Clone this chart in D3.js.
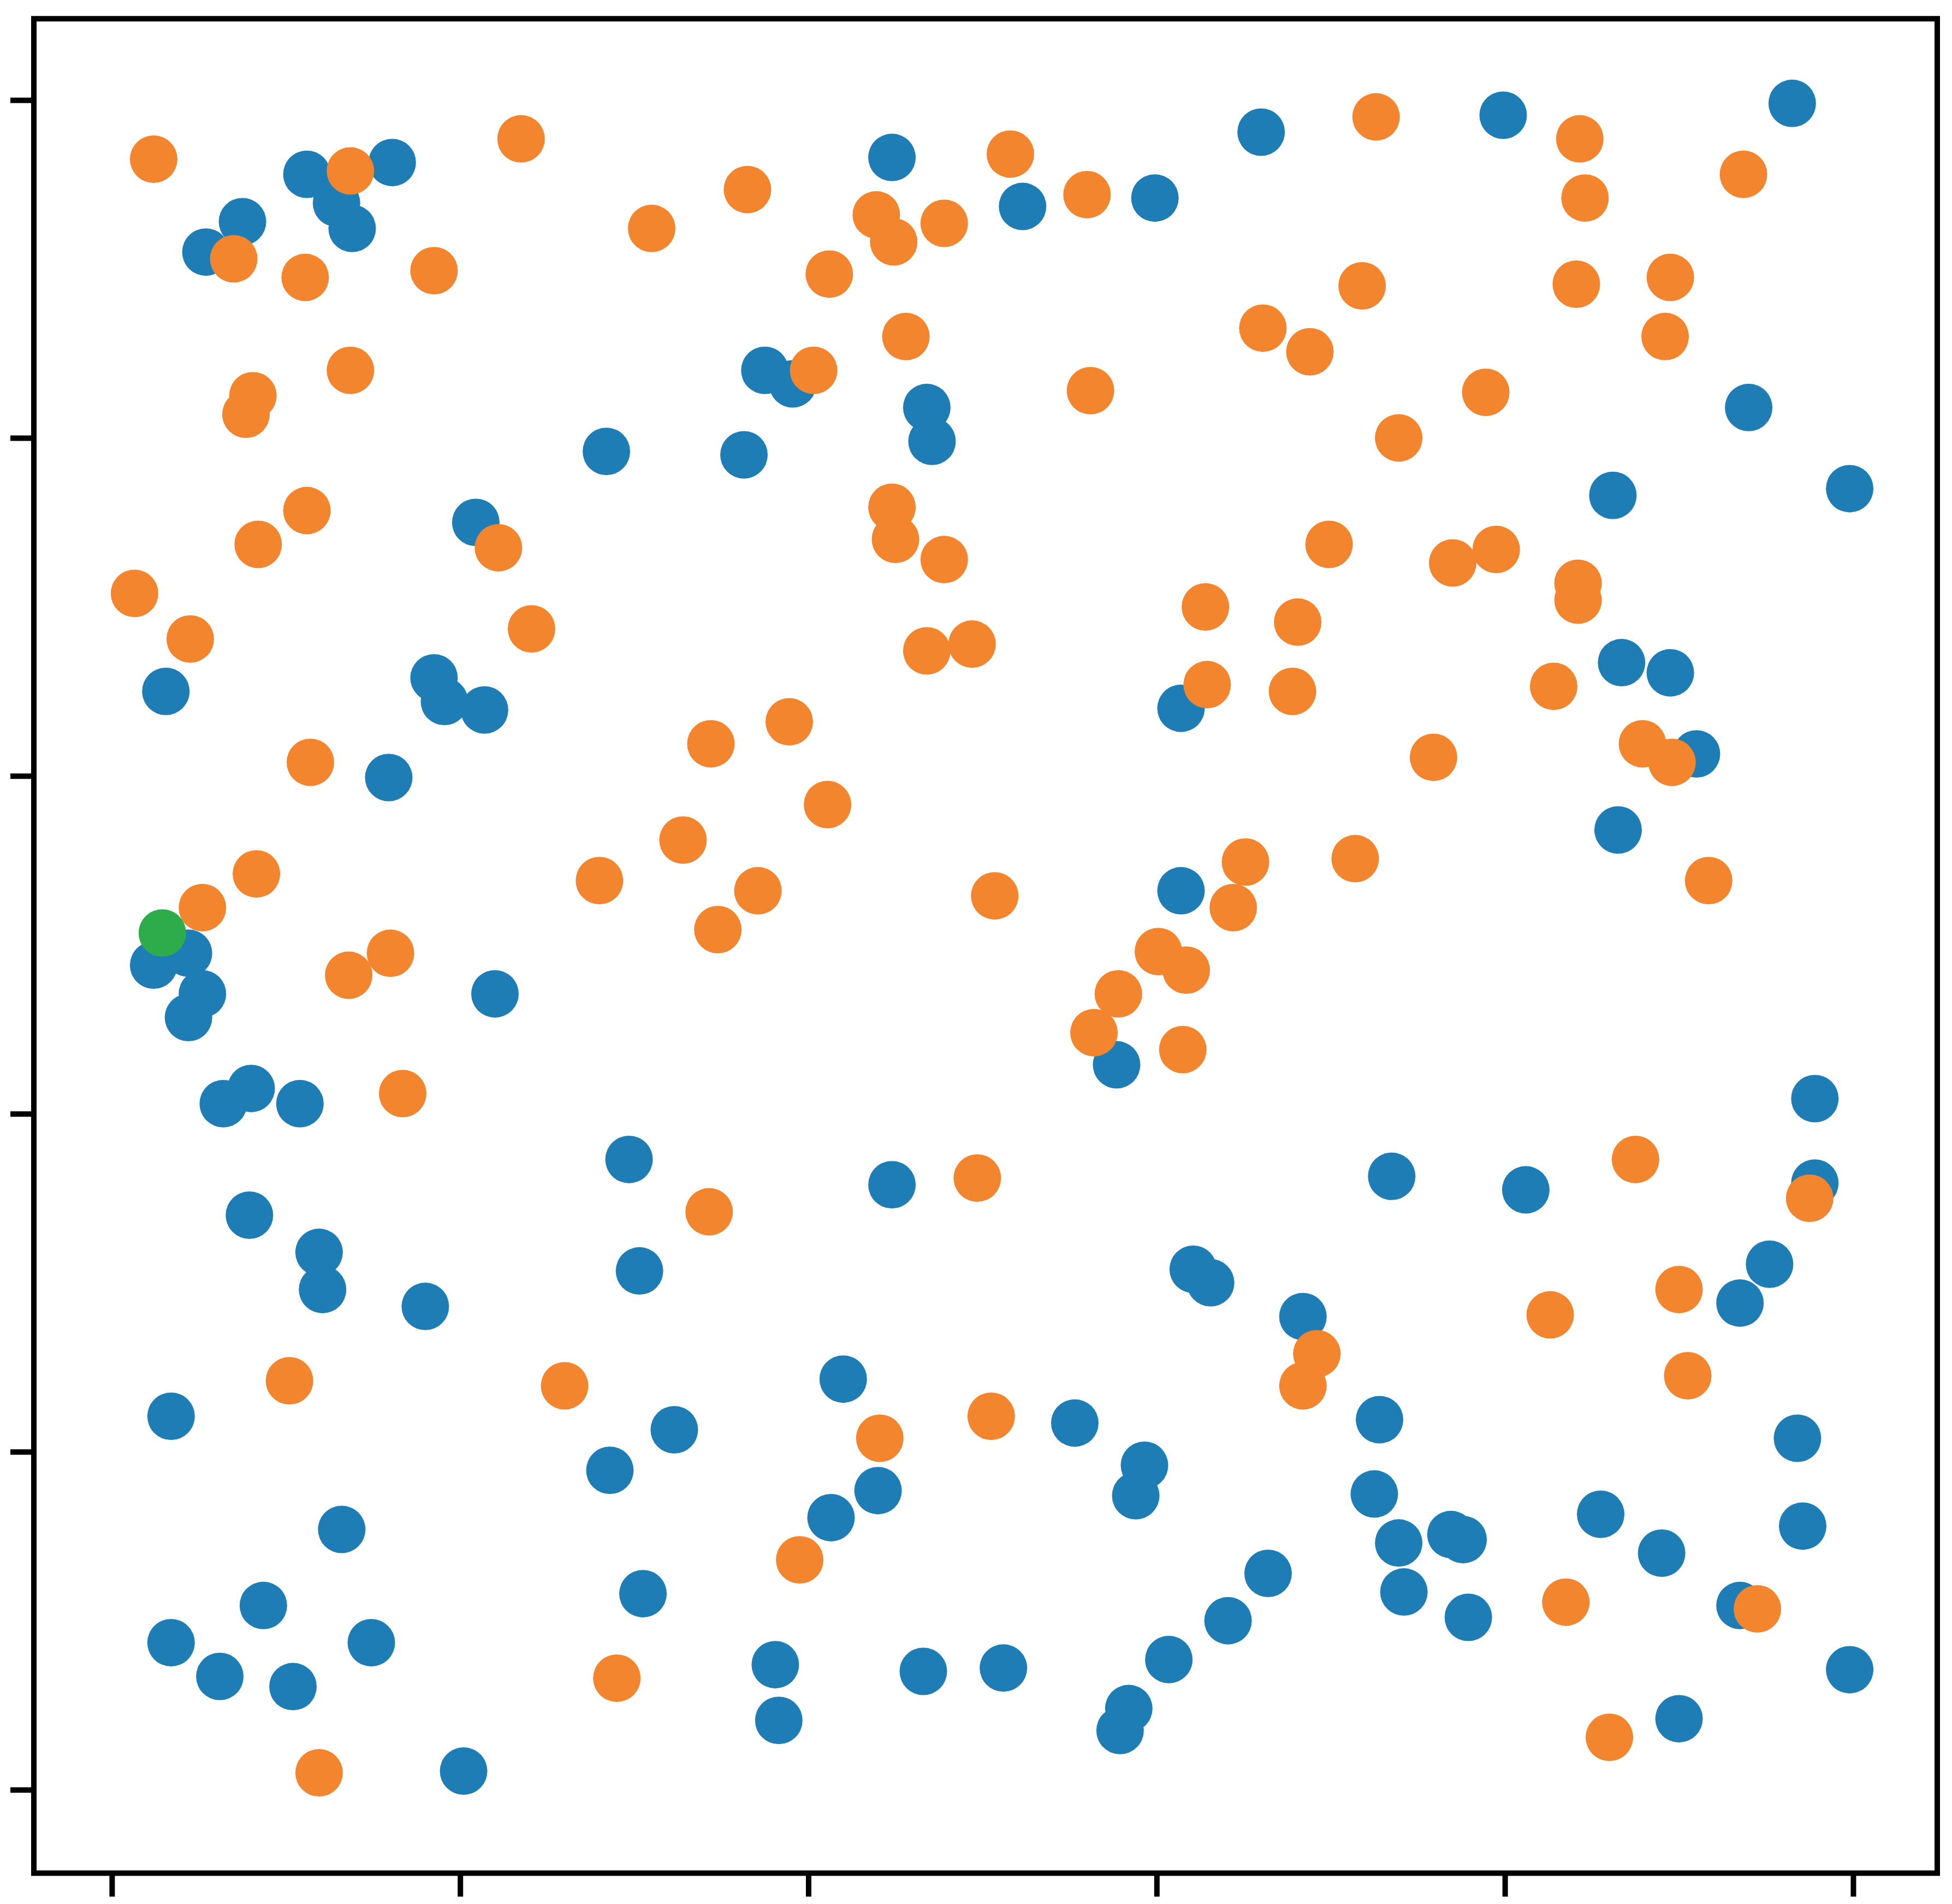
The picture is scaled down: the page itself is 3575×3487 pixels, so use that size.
<!DOCTYPE html>
<html>
<head>
<meta charset="utf-8">
<script src="https://cdn.jsdelivr.net/npm/d3@7"></script>
<style>
  body { margin: 0; background: #fff; }
</style>
</head>
<body>
<div id="chart"></div>
<script>
// series values (x, y in axis units)
var blueX = [0.054,0.075,0.112,0.129,0.138,0.161,0.448,0.523,0.599,0.660,0.799,0.965,
  0.375,0.391,0.468,0.471,0.284,0.363,0.940,0.998,0.862,0.209,0.031,0.185,0.191,0.214,
  0.867,0.895,0.614,0.159,0.910,0.865,0.614,0.024,0.044,0.052,0.044,0.220,0.577,0.064,
  0.080,0.108,0.978,0.297,0.448,0.735,0.812,0.978,0.079,0.119,0.121,0.180,0.303,0.621,
  0.631,0.952,0.935,0.684,0.420,0.034,0.323,0.553,0.728,0.968,0.286,0.593,0.588,0.440,
  0.413,0.725,0.739,0.769,0.776,0.855,0.971,0.890,0.132,0.664,0.742,0.779,0.305,0.087,
  0.641,0.935,0.034,0.149,0.062,0.104,0.381,0.466,0.512,0.607,0.998,0.383,0.584,0.579,
  0.900,0.202];
var blueY = [0.910,0.928,0.956,0.939,0.924,0.963,0.966,0.937,0.942,0.981,0.991,0.998,
  0.840,0.832,0.818,0.798,0.792,0.790,0.818,0.770,0.766,0.750,0.650,0.658,0.644,0.639,
  0.667,0.661,0.640,0.599,0.613,0.568,0.532,0.488,0.495,0.471,0.457,0.471,0.429,0.406,
  0.415,0.406,0.409,0.373,0.358,0.363,0.355,0.359,0.340,0.318,0.296,0.286,0.307,0.308,
  0.300,0.311,0.288,0.280,0.243,0.221,0.213,0.217,0.219,0.208,0.189,0.192,0.174,0.177,
  0.161,0.175,0.146,0.151,0.148,0.163,0.156,0.140,0.154,0.128,0.117,0.102,0.116,0.109,
  0.100,0.109,0.087,0.087,0.067,0.061,0.074,0.070,0.072,0.077,0.071,0.041,0.048,0.035,
  0.042,0.011];

var orangeX = [0.024,0.070,0.137,0.111,0.185,0.235,0.310,0.365,0.412,0.439,0.449,0.478,
  0.516,0.560,0.726,0.843,0.846,0.937,0.718,0.841,0.895,0.081,0.077,0.137,0.403,0.456,
  0.562,0.661,0.688,0.892,0.789,0.739,0.112,0.222,0.084,0.448,0.450,0.478,0.013,0.045,
  0.241,0.468,0.494,0.628,0.681,0.699,0.770,0.795,0.842,0.842,0.629,0.678,0.828,0.344,
  0.389,0.114,0.759,0.879,0.896,0.411,0.328,0.083,0.052,0.280,0.371,0.348,0.507,0.651,
  0.714,0.644,0.917,0.136,0.160,0.601,0.617,0.578,0.564,0.615,0.167,0.497,0.875,0.975,
  0.343,0.900,0.826,0.692,0.684,0.905,0.102,0.260,0.505,0.441,0.395,0.835,0.945,0.290,
  0.860,0.119];
var orangeY = [0.965,0.906,0.958,0.895,0.899,0.977,0.924,0.947,0.897,0.932,0.916,0.927,
  0.968,0.944,0.990,0.977,0.942,0.956,0.890,0.891,0.895,0.825,0.814,0.840,0.840,0.860,
  0.828,0.865,0.851,0.860,0.827,0.800,0.757,0.735,0.737,0.759,0.740,0.728,0.708,0.681,
  0.687,0.674,0.678,0.700,0.691,0.737,0.726,0.734,0.714,0.704,0.654,0.650,0.653,0.619,
  0.632,0.608,0.611,0.619,0.608,0.583,0.562,0.542,0.522,0.538,0.532,0.509,0.529,0.549,
  0.551,0.522,0.538,0.482,0.495,0.496,0.485,0.471,0.448,0.438,0.412,0.362,0.373,0.350,
  0.342,0.296,0.281,0.258,0.239,0.245,0.242,0.239,0.221,0.208,0.136,0.111,0.107,0.066,
  0.031,0.010];

var greenX = [0.029];
var greenY = [0.507];

// tick values (no labels are shown)
var xTicks = [0, 0.2, 0.4, 0.6, 0.8, 1.0];
var yTicks = [0, 0.2, 0.4, 0.6, 0.8, 1.0];

(function() {
  var w = 3575, h = 3487;
  var padL = 62, padR = 3548, padT = 34.3, padB = 3430.5;

  var svg = d3.select("#chart")
    .append("svg")
    .attr("width", w)
    .attr("height", h);

  var x = d3.scaleLinear().domain([-0.0448, 1.0483]).range([padL, padR]);
  var y = d3.scaleLinear().domain([-0.0494, 1.0481]).range([padB, padT]);

  function drawSeries(xs, ys, color) {
    svg.append("g")
      .selectAll("circle")
      .data(xs.map(function(d, i) { return [d, ys[i]]; }))
      .enter()
      .append("circle")
      .attr("cx", function(d) { return x(d[0]); })
      .attr("cy", function(d) { return y(d[1]); })
      .attr("r", 43.5)
      .style("fill", color);
  }

  drawSeries(blueX, blueY, "#1f7db6");
  drawSeries(orangeX, orangeY, "#f3852f");
  drawSeries(greenX, greenY, "#2eab4b");

  // axes: ticks only
  var xAxis = svg.append("g")
    .attr("transform", "translate(0," + padB + ")")
    .call(d3.axisBottom(x).tickValues(xTicks).tickSize(43).tickSizeOuter(0).tickFormat(""));
  var yAxis = svg.append("g")
    .attr("transform", "translate(" + padL + ",0)")
    .call(d3.axisLeft(y).tickValues(yTicks).tickSize(43).tickSizeOuter(0).tickFormat(""));
  [xAxis, yAxis].forEach(function(a) {
    a.select(".domain").remove();
    a.selectAll("line").attr("stroke", "#000").attr("stroke-width", 10);
  });

  // frame
  svg.append("rect")
    .attr("x", padL)
    .attr("y", padT)
    .attr("width", padR - padL)
    .attr("height", padB - padT)
    .attr("fill", "none")
    .attr("stroke", "#000")
    .attr("stroke-width", 10);
})();
</script>
</body>
</html>
